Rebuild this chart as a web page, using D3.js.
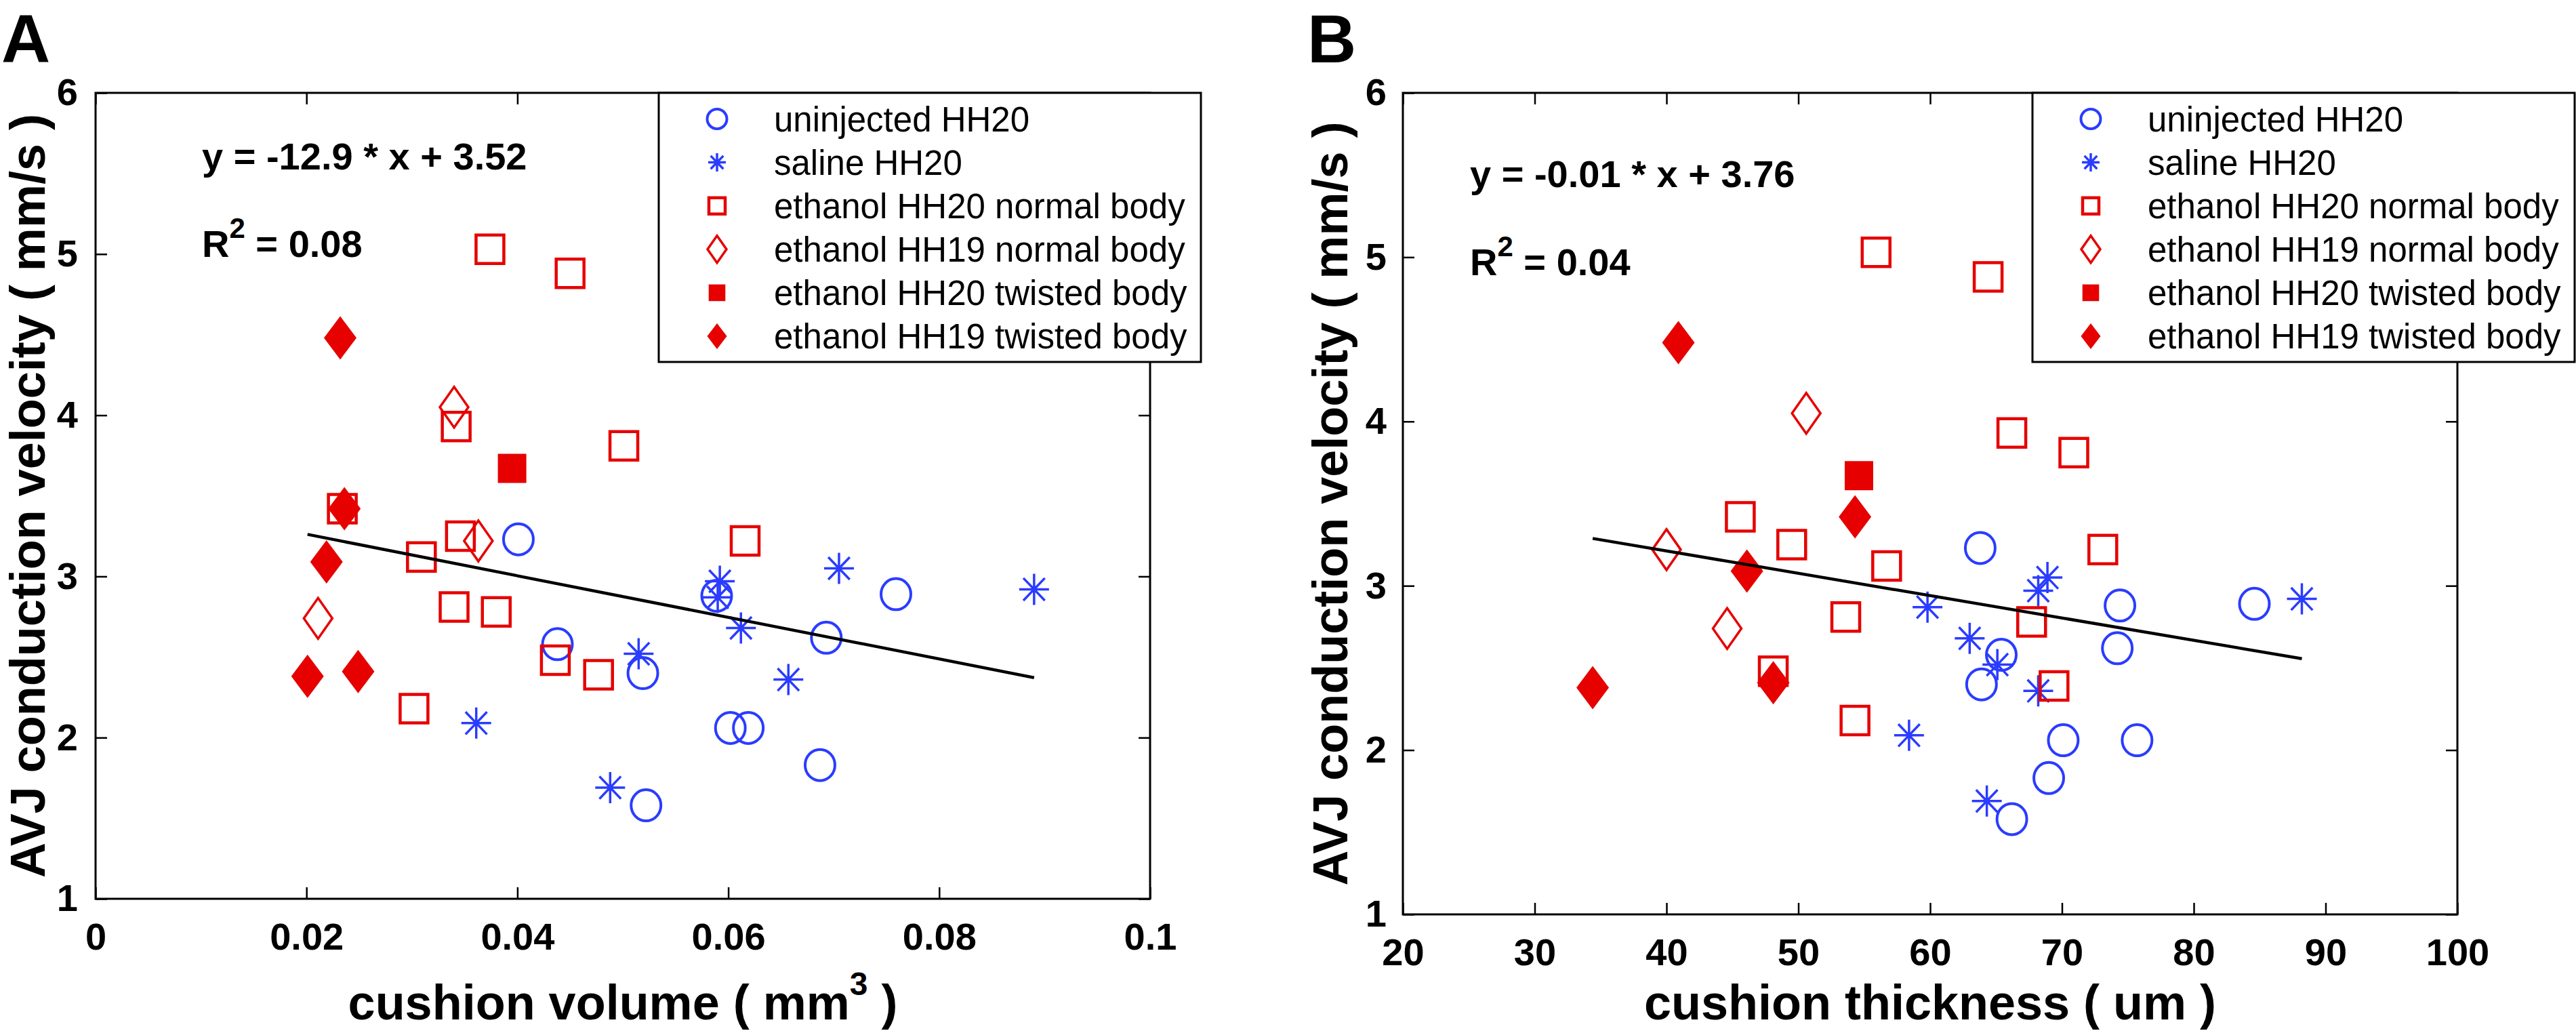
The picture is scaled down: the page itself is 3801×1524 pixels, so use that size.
<!DOCTYPE html>
<html><head><meta charset="utf-8">
<script src="https://cdn.jsdelivr.net/npm/d3@7"></script>
<style>body{margin:0;background:#fff} svg{display:block}</style>
</head><body>
<svg id="chart" width="3801" height="1524"></svg>
<script>
// ---------------- DATA ----------------
const groupNames = ["uninjected HH20","saline HH20","ethanol HH20 normal body","ethanol HH19 normal body","ethanol HH20 twisted body","ethanol HH19 twisted body"];

// AVJ conduction velocity (mm/s), per group
const velUninjected = [3.23, 2.89, 2.88, 2.62, 2.58, 2.40, 2.06, 2.06, 1.83, 1.58];
const velSaline     = [3.05, 2.97, 2.92, 2.87, 2.68, 2.52, 2.36, 2.09, 1.69];
const velEtoh20N    = [5.03, 4.88, 3.93, 3.81, 3.42, 3.25, 3.22, 3.12, 2.81, 2.78, 2.48, 2.39, 2.18];
const velEtoh19N    = [4.05, 3.22, 2.74];
const velEtoh20T    = [3.67];
const velEtoh19T    = [4.48, 3.42, 3.09, 2.41, 2.38];

// cushion volume (mm^3), per group
const volUninjected = [0.0401, 0.0759, 0.0589, 0.0693, 0.0438, 0.0519, 0.0602, 0.0619, 0.0687, 0.0522];
const volSaline     = [0.0705, 0.0592, 0.0890, 0.0590, 0.0612, 0.0515, 0.0657, 0.0361, 0.0488];
const volEtoh20N    = [0.0374, 0.0450, 0.0342, 0.0501, 0.0234, 0.0346, 0.0616, 0.0309, 0.0340, 0.0380, 0.0436, 0.0477, 0.0302];
const volEtoh19N    = [0.0340, 0.0363, 0.0211];
const volEtoh20T    = [0.0395];
const volEtoh19T    = [0.0232, 0.0236, 0.0219, 0.0249, 0.0201];

// cushion thickness (um), per group
const thkUninjected = [63.8, 84.6, 74.4, 74.2, 65.4, 63.9, 70.1, 75.7, 69.0, 66.2];
const thkSaline     = [68.9, 68.2, 88.2, 59.8, 63.0, 65.1, 68.2, 58.4, 64.3];
const thkEtoh20N    = [55.9, 64.4, 66.2, 70.9, 45.6, 49.5, 73.1, 56.7, 53.6, 67.7, 48.1, 69.4, 54.3];
const thkEtoh19N    = [50.6, 40.0, 44.6];
const thkEtoh20T    = [54.6];
const thkEtoh19T    = [40.9, 54.3, 46.1, 48.1, 34.4];

// linear fits [slope, intercept] and printed statistics
const fitVolume    = [-12.9, 3.52];
const fitThickness = [-0.0136, 3.756];
const eqVolume     = ["y = -12.9 * x + 3.52", "0.08"];
const eqThickness  = ["y = -0.01 * x + 3.76", "0.04"];

// ticks
const yTicks       = [1, 2, 3, 4, 5, 6];
const yTickLabels  = ["1", "2", "3", "4", "5", "6"];
const xTicksVol    = [0, 0.02, 0.04, 0.06, 0.08, 0.1];
const xTickLabelsVol = ["0", "0.02", "0.04", "0.06", "0.08", "0.1"];
const xTicksThk    = [20, 30, 40, 50, 60, 70, 80, 90, 100];
const xTickLabelsThk = ["20", "30", "40", "50", "60", "70", "80", "90", "100"];

// ---------------- DRAW ----------------
const svg = d3.select("#chart");
const FONT = "'Liberation Sans', Arial, Helvetica, sans-serif";
const BLUE = "#2a3cff", RED = "#e60000";
const velAll = [velUninjected, velSaline, velEtoh20N, velEtoh19N, velEtoh20T, velEtoh19T];

const styles = [
  {shape: "circle",   color: BLUE, fill: false, plot: {w: 22, h: 23, sw: 4},   leg: {w: 14.5, h: 14.5, sw: 4}},
  {shape: "asterisk", color: BLUE, fill: false, plot: {w: 22, h: 23, sw: 3.5}, leg: {w: 13, h: 13.5, sw: 3.5}},
  {shape: "square",   color: RED,  fill: false, plot: {w: 20.5, h: 21, sw: 4.5}, leg: {w: 12, h: 12, sw: 4.5}},
  {shape: "diamond",  color: RED,  fill: false, plot: {w: 21, h: 30, sw: 3.5}, leg: {w: 14, h: 20, sw: 3.5}},
  {shape: "square",   color: RED,  fill: true,  plot: {w: 21, h: 21.5, sw: 0}, leg: {w: 12.3, h: 12.3, sw: 0}},
  {shape: "diamond",  color: RED,  fill: true,  plot: {w: 24, h: 32, sw: 0},   leg: {w: 14.5, h: 19, sw: 0}}
];

function markerPath(shape, s) {
  if (shape === "square") return `M${-s.w},${-s.h}H${s.w}V${s.h}H${-s.w}Z`;
  if (shape === "diamond") return `M0,${-s.h}L${s.w},0L0,${s.h}L${-s.w},0Z`;
  if (shape === "asterisk") {
    const a = s.w * 0.72, b = s.h * 0.72;
    return `M${-s.w},0H${s.w}M0,${-s.h}V${s.h}M${-a},${-b}L${a},${b}M${-a},${b}L${a},${-b}`;
  }
  return "";
}

function drawMarker(g, st, s, cx, cy) {
  if (st.shape === "circle") {
    g.append("ellipse").attr("cx", cx).attr("cy", cy).attr("rx", s.w).attr("ry", s.h)
      .attr("fill", "none").attr("stroke", st.color).attr("stroke-width", s.sw);
  } else {
    g.append("path").attr("d", markerPath(st.shape, s)).attr("transform", `translate(${cx},${cy})`)
      .attr("fill", st.fill ? st.color : "none")
      .attr("stroke", st.fill ? "none" : st.color).attr("stroke-width", s.sw)
      .attr("stroke-linejoin", "miter");
  }
}

function panel(cfg) {
  const x = d3.scaleLinear().domain(cfg.xDomain).range([cfg.left, cfg.right]);
  const y = d3.scaleLinear().domain([1, 6]).range([cfg.bottom, cfg.top]);
  const g = svg.append("g");

  const styleAxis = sel => {
    sel.select(".domain").remove();
    sel.attr("font-size", 56).attr("font-family", FONT).attr("font-weight", "bold");
    sel.selectAll("line").attr("stroke", "#000").attr("stroke-width", 2.5);
    sel.selectAll("text").attr("fill", "#000");
  };
  g.append("g").attr("transform", `translate(0,${cfg.bottom})`)
    .call(d3.axisBottom(x).tickValues(cfg.xTicks).tickFormat((d, i) => cfg.xTickLabels[i])
      .tickSizeInner(-17).tickSizeOuter(0).tickPadding(35)).call(styleAxis);
  g.append("g").attr("transform", `translate(0,${cfg.top})`)
    .call(d3.axisTop(x).tickValues(cfg.xTicks).tickFormat("").tickSizeInner(-17).tickSizeOuter(0)).call(styleAxis);
  g.append("g").attr("transform", `translate(${cfg.left},0)`)
    .call(d3.axisLeft(y).tickValues(yTicks).tickFormat((d, i) => yTickLabels[i])
      .tickSizeInner(-17).tickSizeOuter(0).tickPadding(cfg.yPad)).call(styleAxis);
  g.append("g").attr("transform", `translate(${cfg.right},0)`)
    .call(d3.axisRight(y).tickValues(yTicks).tickFormat("").tickSizeInner(-17).tickSizeOuter(0)).call(styleAxis);

  g.append("rect").attr("x", cfg.left).attr("y", cfg.top)
    .attr("width", cfg.right - cfg.left).attr("height", cfg.bottom - cfg.top)
    .attr("fill", "none").attr("stroke", "#000").attr("stroke-width", 3);

  // points
  const pts = g.append("g");
  cfg.xs.forEach((xs, gi) => {
    xs.forEach((xv, i) => drawMarker(pts, styles[gi], styles[gi].plot, x(xv), y(velAll[gi][i])));
  });

  // fit line
  const allX = cfg.xs.flat();
  const x0 = d3.min(allX), x1 = d3.max(allX);
  g.append("line")
    .attr("x1", x(x0)).attr("y1", y(cfg.fit[0] * x0 + cfg.fit[1]))
    .attr("x2", x(x1)).attr("y2", y(cfg.fit[0] * x1 + cfg.fit[1]))
    .attr("stroke", "#000").attr("stroke-width", 4.5);

  // equation
  const tg = g.append("g").attr("font-family", FONT).attr("font-weight", "bold").attr("font-size", 56).attr("fill", "#000");
  tg.append("text").attr("x", cfg.eqX).attr("y", cfg.eqY1).text(cfg.eq[0]);
  const r2 = tg.append("text").attr("x", cfg.eqX).attr("y", cfg.eqY2);
  r2.append("tspan").text("R");
  r2.append("tspan").attr("font-size", 42).attr("dy", -28).text("2");
  r2.append("tspan").attr("dy", 28).text(" = " + cfg.eq[1]);

  // axis labels
  const xl = g.append("text").attr("x", (cfg.left + cfg.right) / 2).attr("y", cfg.xLabelY)
    .attr("text-anchor", "middle").attr("font-family", FONT).attr("font-weight", "bold").attr("font-size", 72);
  cfg.xLabel(xl);
  g.append("text").attr("transform", `translate(${cfg.yLabelX},${(cfg.top + cfg.bottom) / 2}) rotate(-90)`)
    .attr("text-anchor", "middle").attr("font-family", FONT).attr("font-weight", "bold").attr("font-size", 72)
    .text("AVJ conduction velocity ( mm/s )");

  // panel letter
  g.append("text").attr("x", cfg.letterX).attr("y", 92).attr("font-family", FONT)
    .attr("font-weight", "bold").attr("font-size", 100).text(cfg.letter);

  // legend
  const lg = g.append("g");
  lg.append("rect").attr("x", cfg.legX).attr("y", cfg.top).attr("width", 800).attr("height", 397)
    .attr("fill", "#fff").attr("stroke", "#000").attr("stroke-width", 3);
  groupNames.forEach((name, i) => {
    const cy = cfg.top + 38.5 + i * 64.1;
    drawMarker(lg, styles[i], styles[i].leg, cfg.legX + 86, cy);
    lg.append("text").attr("x", cfg.legX + 170).attr("y", cy + 18)
      .attr("font-family", FONT).attr("font-size", 51).attr("fill", "#000").text(name);
  });
}

panel({
  letter: "A", letterX: 2,
  left: 141, right: 1697, top: 137, bottom: 1326, yPad: 26, yLabelX: 66, xLabelY: 1504,
  xDomain: [0, 0.1], xTicks: xTicksVol, xTickLabels: xTickLabelsVol,
  xs: [volUninjected, volSaline, volEtoh20N, volEtoh19N, volEtoh20T, volEtoh19T],
  fit: fitVolume, eq: eqVolume, eqX: 298, eqY1: 250, eqY2: 379,
  legX: 972,
  xLabel: t => {
    t.append("tspan").text("cushion volume ( mm");
    t.append("tspan").attr("font-size", 48).attr("dy", -36).text("3");
    t.append("tspan").attr("dy", 36).text(" )");
  }
});

panel({
  letter: "B", letterX: 1929,
  left: 2070, right: 3626, top: 137, bottom: 1349, yPad: 24, yLabelX: 1988, xLabelY: 1504,
  xDomain: [20, 100], xTicks: xTicksThk, xTickLabels: xTickLabelsThk,
  xs: [thkUninjected, thkSaline, thkEtoh20N, thkEtoh19N, thkEtoh20T, thkEtoh19T],
  fit: fitThickness, eq: eqThickness, eqX: 2169, eqY1: 276, eqY2: 406,
  legX: 2999,
  xLabel: t => { t.text("cushion thickness ( um )"); }
});
</script>
</body></html>
